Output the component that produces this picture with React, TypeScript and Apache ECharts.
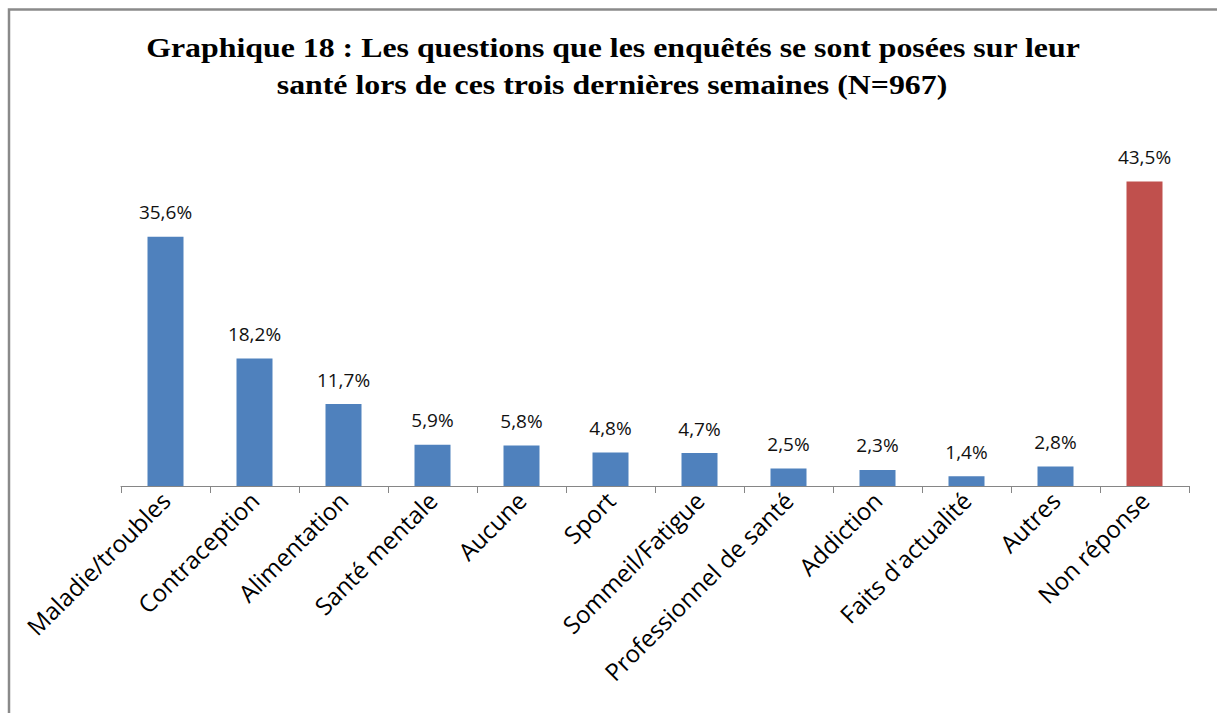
import React, { useEffect, useRef } from "react";
import * as echarts from "echarts";

const categories = [
  "Maladie/troubles",
  "Contraception",
  "Alimentation",
  "Santé mentale",
  "Aucune",
  "Sport",
  "Sommeil/Fatigue",
  "Professionnel de santé",
  "Addiction",
  "Faits d'actualité",
  "Autres",
  "Non réponse",
];
const values = [35.6, 18.2, 11.7, 5.9, 5.8, 4.8, 4.7, 2.5, 2.3, 1.4, 2.8, 43.5];
const highlighted = ["Non réponse"];
const titleLines = [
  "Graphique 18 : Les questions que les enquêtés se sont posées sur leur",
  "santé lors de ces trois dernières semaines (N=967)",
];

export default function App() {
  const ref = useRef<HTMLDivElement>(null);
  useEffect(() => {
    document.body.style.margin = "0";
    const chart = echarts.init(ref.current!, null, { renderer: "svg" });
    const titleStyle = {
      fontFamily: "Liberation Serif",
      fontWeight: "bold",
      fontSize: 27,
      fill: "#000",
      align: "center",
      verticalAlign: "middle",
    };
    chart.setOption({
      animation: false,
      backgroundColor: "#ffffff",
      graphic: [
        {
          type: "rect",
          shape: { x: 9, y: 9.5, width: 1400, height: 900 },
          style: { fill: "none", stroke: "#8a8a8a", lineWidth: 2.5 },
          silent: true,
        },
        {
          type: "text",
          x: 613,
          y: 48,
          scaleX: 1.18,
          style: { ...titleStyle, text: titleLines[0] },
          silent: true,
        },
        {
          type: "text",
          x: 612,
          y: 85,
          scaleX: 1.18,
          style: { ...titleStyle, text: titleLines[1] },
          silent: true,
        },
      ],
      grid: { left: 121, right: 28, top: 136, bottom: 227, containLabel: false },
      xAxis: {
        type: "category",
        data: categories,
        axisLine: { show: true, lineStyle: { color: "#868686", width: 1 } },
        axisTick: { show: true, alignWithLabel: false, length: 7, lineStyle: { color: "#868686" } },
        axisLabel: {
          rotate: 45,
          interval: 0,
          margin: 10,
          fontFamily: "Open Sans",
          fontSize: 24,
          color: "#000",
        },
      },
      yAxis: {
        type: "value",
        min: 0,
        max: 50,
        show: false,
        splitLine: { show: false },
      },
      series: [
        {
          type: "bar",
          barWidth: 36,
          data: values.map((v, i) => ({
            value: v,
            itemStyle: { color: highlighted.includes(categories[i]) ? "#C0504D" : "#4F81BD" },
          })),
          label: {
            show: true,
            position: "top",
            distance: 15,
            fontFamily: "Open Sans",
            fontSize: 19,
            color: "#111",
            formatter: (p: any) => p.value.toFixed(1).replace(".", ",") + "%",
          },
        },
      ],
    });
    return () => chart.dispose();
  }, []);
  return <div ref={ref} style={{ width: 1217, height: 713 }} />;
}
